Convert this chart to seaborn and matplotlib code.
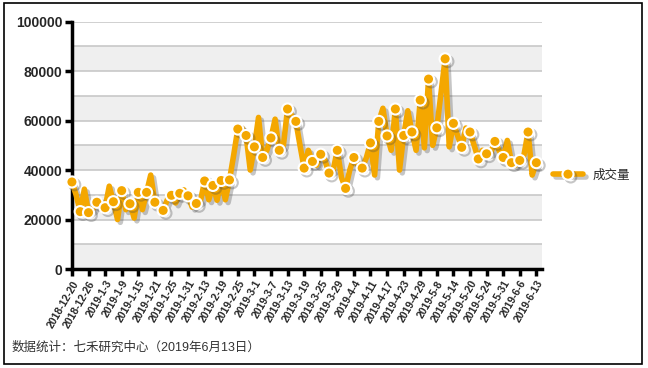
import matplotlib
matplotlib.use("Agg")
import matplotlib.pyplot as plt
import matplotlib.patheffects as pe
from matplotlib.patches import Rectangle
import numpy as np
import pandas as pd
import seaborn as sns

# x tick labels, one every 4 trading days
tick_labels = ['2018-12-20', '2018-12-26', '2019-1-3', '2019-1-9', '2019-1-15',
               '2019-1-21', '2019-1-25', '2019-1-31', '2019-2-13', '2019-2-19',
               '2019-2-25', '2019-3-1', '2019-3-7', '2019-3-13', '2019-3-19',
               '2019-3-25', '2019-3-29', '2019-4-4', '2019-4-11', '2019-4-17',
               '2019-4-23', '2019-4-29', '2019-5-8', '2019-5-14', '2019-5-20',
               '2019-5-24', '2019-5-31', '2019-6-6', '2019-6-13']

# daily volume
volume = [35200, 30000, 23200, 32300, 22800, 24000, 27000, 26000, 24800, 33500,
          27200, 20000, 31700, 24000, 26400, 20600, 31000, 24000, 31000, 38000,
          27000, 25000, 23700, 28000, 29800, 26700, 30600, 32000, 29600, 25000,
          26500, 27500, 35600, 28000, 33800, 27800, 35800, 28000, 36000, 46000,
          56600, 57000, 54000, 40000, 49400, 61300, 45100, 48000, 53000, 60600,
          48000, 50000, 64700, 62000, 59700, 50000, 40800, 48000, 43500, 42000,
          46400, 44000, 38800, 40000, 48000, 37000, 32600, 40000, 45100, 42000,
          40800, 45000, 51000, 38000, 59700, 65000, 53800, 48000, 64700, 40000,
          54000, 64000, 55400, 48000, 68300, 49000, 76800, 50000, 57100, 71000,
          85000, 49400, 58900, 54000, 49200, 57000, 55400, 50000, 44500, 48000,
          46600, 47000, 51600, 48000, 45100, 52000, 43000, 42000, 43900, 46000,
          55400, 38000, 43000]

days = np.arange(len(volume))
df = pd.DataFrame({'day': days, 'volume': volume})

orange = '#F4A700'

sns.set_theme(style="ticks")
plt.rcParams['font.family'] = ['Liberation Sans', 'Noto Sans CJK SC']

fig = plt.figure(figsize=(6.48, 3.68), dpi=100)
ax = fig.add_axes([0.111, 0.269, 0.725, 0.672])

# alternating background bands
for y0 in range(0, 100000, 20000):
    ax.axhspan(y0, y0 + 10000, color='#efefef', lw=0, zorder=0)

ax.set_yticks(range(0, 100001, 20000))
ax.set_yticks(range(10000, 100000, 20000), minor=True)
ax.grid(axis='y', which='both', color='#c8c8c8', lw=1.2)
ax.set_axisbelow(True)

sns.lineplot(data=df, x='day', y='volume', ax=ax, color=orange, lw=4,
             marker='o', markersize=8, markerfacecolor=orange,
             markeredgecolor='white', markeredgewidth=1.5, markevery=2,
             label='成交量', clip_on=False, zorder=5)
ax.lines[0].set_path_effects([pe.SimpleLineShadow(offset=(2, -2), shadow_color='#444444', alpha=0.3),
                              pe.Normal()])

ax.set_xlim(0, 113.3)
ax.set_ylim(0, 100000)
ax.set_xticks(days[::4])
ax.set_xticklabels(tick_labels, rotation=60, ha='right', rotation_mode='anchor',
                   fontsize=7.5, fontweight='bold')
for lab in ax.get_yticklabels():
    lab.set_fontsize(10)
    lab.set_fontweight('bold')
ax.tick_params(axis='both', which='major', length=5, width=2.5, color='black', direction='out', pad=2)
ax.tick_params(which='minor', length=0)
for s in ['top', 'right']:
    ax.spines[s].set_visible(False)
for s in ['left', 'bottom']:
    ax.spines[s].set_color('black')
    ax.spines[s].set_linewidth(2.5)
ax.set_xlabel('')
ax.set_ylabel('')

ax.legend(loc='center left', bbox_to_anchor=(1.0, 0.38), frameon=False,
          prop={'family': ['Noto Sans CJK SC'], 'size': 9}, handlelength=2.4)

fig.text(12 / 648, 1 - 348 / 368, '数据统计：七禾研究中心（2019年6月13日）',
         fontsize=9, color='#333333', va='center',
         family=['Liberation Sans', 'Noto Sans CJK SC'])

fig.patches.append(Rectangle((4 / 648, 4 / 368), 638 / 648, 361 / 368,
                             transform=fig.transFigure, fill=False, ec='black', lw=1.2))

fig.savefig('out.png', dpi=100)
